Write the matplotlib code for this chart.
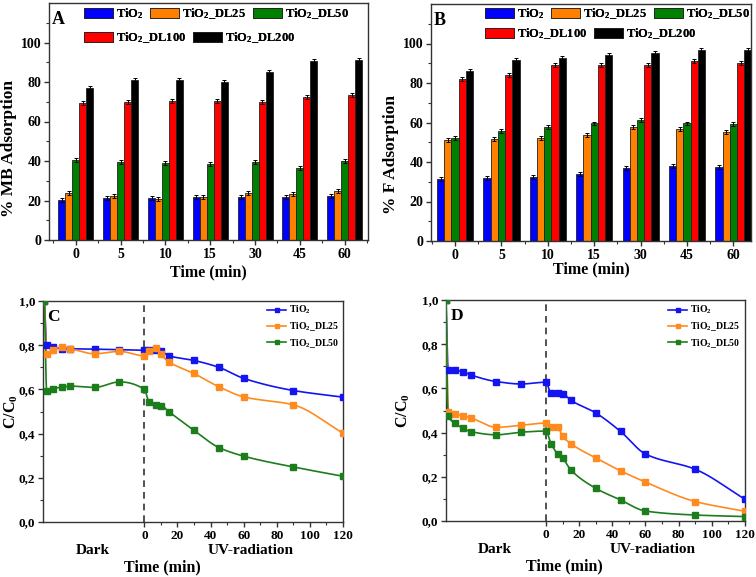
import numpy as np
import matplotlib
matplotlib.use('Agg')
import matplotlib.pyplot as plt
from matplotlib.patches import Patch
from matplotlib.lines import Line2D
from matplotlib.ticker import MultipleLocator, FixedLocator, FuncFormatter
import matplotlib.transforms as mtransforms

plt.rcParams['font.family'] = ['Liberation Serif', 'DejaVu Serif']
plt.rcParams['font.weight'] = 'bold'
plt.rcParams['axes.labelweight'] = 'bold'
plt.rcParams['mathtext.fontset'] = 'custom'
plt.rcParams['mathtext.rm'] = 'Liberation Serif:bold'
plt.rcParams['mathtext.it'] = 'Liberation Serif:bold:italic'
plt.rcParams['mathtext.bf'] = 'Liberation Serif:bold'
plt.rcParams['mathtext.default'] = 'rm'

# ---------------- data ----------------
time_labels = ['0', '5', '10', '15', '30', '45', '60']
bar_names = [r'TiO$_2$', r'TiO$_2$_DL25', r'TiO$_2$_DL50', r'TiO$_2$_DL100', r'TiO$_2$_DL200']
bar_colors = ['#0000ff', '#ff8000', '#008000', '#ff0000', '#000000']

mb_tio2 = [20.2, 21.1, 21.4, 21.6, 21.9, 21.9, 22.3]
mb_dl25 = [23.9, 22.3, 20.9, 21.9, 23.9, 23.1, 25.0]
mb_dl50 = [40.5, 39.6, 39.1, 38.6, 39.3, 36.6, 40.0]
mb_dl100 = [69.5, 69.8, 70.5, 70.3, 69.8, 72.2, 73.5]
mb_dl200 = [77.2, 80.9, 80.9, 80.1, 85.0, 90.6, 91.2]

f_tio2 = [31.3, 31.9, 32.4, 34.1, 37.0, 38.0, 37.3]
f_dl25 = [51.1, 51.8, 52.1, 53.5, 57.6, 56.7, 55.2]
f_dl50 = [52.3, 55.5, 57.9, 59.5, 61.2, 59.5, 59.1]
f_dl100 = [81.8, 84.2, 88.9, 88.9, 89.3, 91.0, 90.0]
f_dl200 = [86.0, 91.8, 92.7, 94.0, 95.2, 96.6, 96.6]

bar_err = [1.0, 1.0, 1.0, 1.0, 1.0, 1.0, 1.0]

line_names = [r'TiO$_2$', r'TiO$_2$_DL25', r'TiO$_2$_DL50']
line_colors = ['#1414f0', '#ff8a1e', '#1c7d1c']

t_c = [-60.3, -59, -55, -50, -45, -30, -15, 0, 3, 7, 10, 15, 30, 45, 60, 90, 120]
c_tio2 = [1.0, 0.80, 0.79, 0.785, 0.784, 0.782, 0.78, 0.777, 0.777, 0.777, 0.773, 0.752, 0.731, 0.70, 0.65, 0.595, 0.565]
c_dl25 = [1.0, 0.761, 0.78, 0.79, 0.784, 0.761, 0.772, 0.752, 0.772, 0.786, 0.758, 0.724, 0.672, 0.612, 0.566, 0.53, 0.402]
c_dl50 = [1.0, 0.595, 0.604, 0.61, 0.615, 0.609, 0.634, 0.60, 0.541, 0.529, 0.527, 0.498, 0.415, 0.337, 0.298, 0.249, 0.207]

t_d = [-60.3, -59, -55, -50, -45, -30, -15, 0, 3, 7, 10, 15, 30, 45, 60, 90, 120]
d_tio2 = [1.0, 0.685, 0.682, 0.675, 0.66, 0.631, 0.62, 0.628, 0.579, 0.578, 0.576, 0.546, 0.489, 0.405, 0.303, 0.234, 0.098]
d_dl25 = [1.0, 0.492, 0.483, 0.477, 0.466, 0.424, 0.433, 0.443, 0.424, 0.424, 0.383, 0.35, 0.285, 0.227, 0.176, 0.088, 0.044]
d_dl50 = [1.0, 0.477, 0.443, 0.419, 0.404, 0.39, 0.402, 0.407, 0.35, 0.304, 0.285, 0.231, 0.148, 0.095, 0.045, 0.027, 0.02]


def pchip(x, y, n=3000):
    x = np.asarray(x, float)
    y = np.asarray(y, float)
    h = np.diff(x)
    d = np.diff(y) / h
    m = np.zeros_like(y)
    for k in range(1, len(x) - 1):
        if d[k - 1] * d[k] > 0:
            w1 = 2 * h[k] + h[k - 1]
            w2 = h[k] + 2 * h[k - 1]
            m[k] = (w1 + w2) / (w1 / d[k - 1] + w2 / d[k])
    m[0] = d[0]
    m[-1] = d[-1]
    xs = np.linspace(x[0], x[-1], n)
    idx = np.clip(np.searchsorted(x, xs) - 1, 0, len(h) - 1)
    t = (xs - x[idx]) / h[idx]
    h00 = 2 * t**3 - 3 * t**2 + 1
    h10 = t**3 - 2 * t**2 + t
    h01 = -2 * t**3 + 3 * t**2
    h11 = t**3 - t**2
    ys = h00 * y[idx] + h10 * h[idx] * m[idx] + h01 * y[idx + 1] + h11 * h[idx] * m[idx + 1]
    return xs, ys


W, H = 756, 577
fig = plt.figure(figsize=(W / 100, H / 100), dpi=100)


def ax_px(l, t, r, b):
    return fig.add_axes([l / W, 1 - b / H, (r - l) / W, (b - t) / H])


def style_axes(ax, lsize):
    for s in ax.spines.values():
        s.set_color('#333333')
        s.set_linewidth(1.0)
    ax.tick_params(which='both', direction='out', top=False, right=False, color='#333333')
    ax.tick_params(which='major', length=3.5, width=1.0, labelsize=lsize, pad=2)
    ax.tick_params(which='minor', length=2.0, width=0.8)


def bar_panel(ax, series, ylabel, letter, xlim, xpad, ly):
    x = np.arange(len(time_labels))
    bw = 0.156
    for i, (vals, c) in enumerate(zip(series, bar_colors)):
        ax.bar(x + (i - 2) * bw, vals, bw, color=c, edgecolor='#222222', linewidth=0.6,
               yerr=bar_err, error_kw=dict(ecolor='black', elinewidth=0.7, capsize=1.6, capthick=0.7), zorder=2)
    ax.set_xlim(*xlim)
    ax.set_ylim(0, 120)
    ax.set_xticks(x)
    ax.set_xticklabels(time_labels)
    ax.xaxis.set_minor_locator(FixedLocator(np.arange(-0.5, 7, 1.0)))
    ax.set_yticks([0, 20, 40, 60, 80, 100])
    ax.yaxis.set_minor_locator(FixedLocator(np.arange(10, 120, 20)))
    style_axes(ax, 10)
    ax.set_xlabel('Time (min)', fontsize=11.5, labelpad=xpad)
    ax.set_ylabel(ylabel, fontsize=12.5, labelpad=3)
    ax.yaxis.label.set_y(ly)
    ax.text(0.008, 0.965, letter, transform=ax.transAxes, fontsize=13, fontweight='bold', va='top', ha='left')


axA = ax_px(49, 3, 368, 240)
bar_panel(axA, [mb_tio2, mb_dl25, mb_dl50, mb_dl100, mb_dl200], '% MB Adsorption', 'A', (-0.6, 6.52), 3, 0.385)
axB = ax_px(431, 4, 751, 241)
bar_panel(axB, [f_tio2, f_dl25, f_dl50, f_dl100, f_dl200], '% F Adsorption', 'B', (-0.52, 6.38), 0, 0.367)

handles = [Patch(facecolor=c, edgecolor='#222222', linewidth=0.6) for c in bar_colors]
leg_kw = dict(frameon=False, fontsize=9, borderaxespad=0, borderpad=0, handlelength=2.3,
              handleheight=0.85, handletextpad=0.25, columnspacing=0.55, loc='center left')
for (lx, y1, y2) in [(84, 14, 38), (485, 14, 34)]:
    l1 = fig.legend(handles[:3], bar_names[:3], ncol=3, bbox_to_anchor=(lx / W, 1 - y1 / H), **leg_kw)
    fig.add_artist(l1)
    l2 = fig.legend(handles[3:], bar_names[3:], ncol=2, bbox_to_anchor=(lx / W, 1 - y2 / H), **leg_kw)
    fig.add_artist(l2)

comma = FuncFormatter(lambda v, p: f'{v:.1f}'.replace('.', ','))


def line_panel(ax, t, series, letter, xlim, legx, labx):
    for vals, c, name in zip(series, line_colors, line_names):
        xs, ys = pchip(t, vals)
        ax.plot(xs, ys, color=c, lw=1.2, zorder=3)
        ax.plot(t, vals, 's', color=c, ms=4.2, zorder=4)
    ax.axvline(0, color='#333333', lw=1.2, ls=(0, (4, 3)), zorder=2)
    ax.set_xlim(*xlim)
    ax.set_ylim(0, 1.0)
    ax.set_xticks([0, 20, 40, 60, 80, 100, 120])
    ax.xaxis.set_minor_locator(FixedLocator([10, 30, 50, 70, 90, 110]))
    ax.set_yticks([0, 0.2, 0.4, 0.6, 0.8, 1.0])
    ax.yaxis.set_minor_locator(MultipleLocator(0.1))
    ax.yaxis.set_major_formatter(comma)
    style_axes(ax, 9.5)
    ax.set_ylabel(r'C/C$_0$', fontsize=11.5)
    ax.yaxis.set_label_coords(labx, 0.5)
    ax.text(0.015, 0.965, letter, transform=ax.transAxes, fontsize=12.5, fontweight='bold', va='top', ha='left')
    tr = mtransforms.blended_transform_factory(ax.transData, ax.transAxes)
    ax.text(-31, -0.128, 'Dark', transform=tr, ha='center', va='center', fontsize=11)
    ax.text(64, -0.128, 'UV-radiation', transform=tr, ha='center', va='center', fontsize=11)
    ax.text(11, -0.205, 'Time (min)', transform=tr, ha='center', va='center', fontsize=11.5)
    hl = [Line2D([], [], color=c, lw=1.2, marker='s', ms=3.5) for c in line_colors]
    fig.legend(hl, line_names, frameon=False, fontsize=7, loc='upper left', borderaxespad=0, borderpad=0,
               handlelength=2.0, handletextpad=0.3, labelspacing=0.4,
               bbox_to_anchor=(legx / W, 1 - 304 / H))


axC = ax_px(43, 301, 343, 522)
line_panel(axC, t_c, [c_tio2, c_dl25, c_dl50], 'C', (-61.2, 120), 267, -0.076)
axD = ax_px(446, 300, 745, 521)
line_panel(axD, t_d, [d_tio2, d_dl25, d_dl50], 'D', (-60.3, 120), 668, -0.115)

fig.savefig('out.png', dpi=100)
